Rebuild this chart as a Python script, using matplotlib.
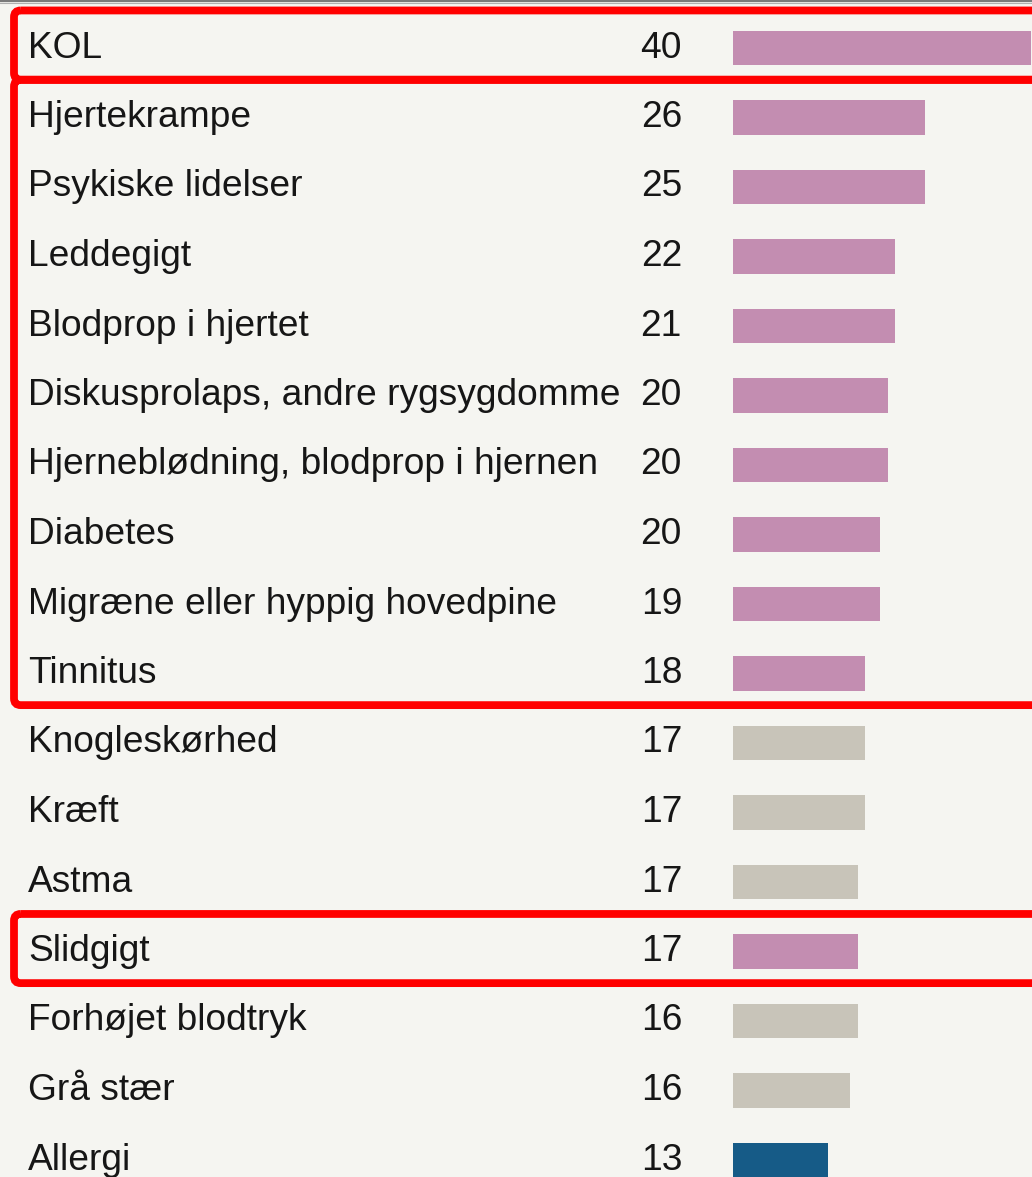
import matplotlib
matplotlib.use('Agg')
import matplotlib.pyplot as plt
from matplotlib.patches import FancyBboxPatch
from matplotlib.lines import Line2D

categories = ["KOL", "Hjertekrampe", "Psykiske lidelser", "Leddegigt",
              "Blodprop i hjertet", "Diskusprolaps, andre rygsygdomme",
              "Hjerneblødning, blodprop i hjernen", "Diabetes",
              "Migræne eller hyppig hovedpine", "Tinnitus", "Knogleskørhed",
              "Kræft", "Astma", "Slidgigt", "Forhøjet blodtryk", "Grå stær",
              "Allergi"]
shown = ["40", "26", "25", "22", "21", "20", "20", "20", "19", "18",
         "17", "17", "17", "17", "16", "16", "13"]
# bar lengths as drawn (unrounded)
values = [40.0, 25.8, 25.8, 21.8, 21.8, 20.8, 20.8, 19.7, 19.7, 17.7,
          17.7, 17.7, 16.8, 16.8, 16.8, 15.7, 12.75]
groups = ["p", "p", "p", "p", "p", "p", "p", "p", "p", "p",
          "g", "g", "g", "p", "g", "g", "b"]
# highlighted row ranges (first, last)
boxes = [(0, 0), (1, 9), (13, 13)]

colors = {"p": "#c38db1", "g": "#c8c4b9", "b": "#165b87"}
bg = "#f5f5f1"

W, H = 1032, 1177
x0_px, unit_px = 733, 7.45
row0_px, row_px = 48, 69.5

fig = plt.figure(figsize=(W / 100, H / 100), dpi=100, facecolor=bg)
ax = fig.add_axes([0, 0, 1, 1])
ax.set_facecolor(bg)
ax.set_xlim(-x0_px / unit_px, (W - x0_px) / unit_px)
ax.set_ylim((H - row0_px) / row_px, -row0_px / row_px)
ax.axis('off')

ypos = list(range(len(categories)))
ax.barh(ypos, values, height=0.49, left=0,
        color=[colors[g] for g in groups], linewidth=0)

for i, (c, s) in enumerate(zip(categories, shown)):
    ax.text(28 / W, i, c, transform=ax.get_yaxis_transform(), ha='left',
            va='center', fontsize=26.7, family='Liberation Sans', color='#161616')
    ax.text(682 / W, i, s, transform=ax.get_yaxis_transform(), ha='right',
            va='center', fontsize=26.7, family='Liberation Sans', color='#161616')

# red highlight frames
xl = (14 - x0_px) / unit_px
xr = (W + 10 - x0_px) / unit_px
for a, b in boxes:
    top = a - 0.54
    bot = b + 0.455
    p = FancyBboxPatch((xl, top), xr - xl, bot - top,
                       boxstyle="round,pad=0,rounding_size=0.9",
                       mutation_aspect=unit_px / row_px,
                       fill=False, edgecolor='#ff0000', linewidth=5.6,
                       clip_on=False, zorder=5)
    ax.add_patch(p)

fig.add_artist(Line2D([0, 1], [1 - 1 / H, 1 - 1 / H], transform=fig.transFigure,
                      color='#7a7a7a', linewidth=1.6))
fig.add_artist(Line2D([0, 1], [1 - 3 / H, 1 - 3 / H], transform=fig.transFigure,
                      color='#b0b0b0', linewidth=0.8))

plt.savefig("out.png", dpi=100, facecolor=bg)
